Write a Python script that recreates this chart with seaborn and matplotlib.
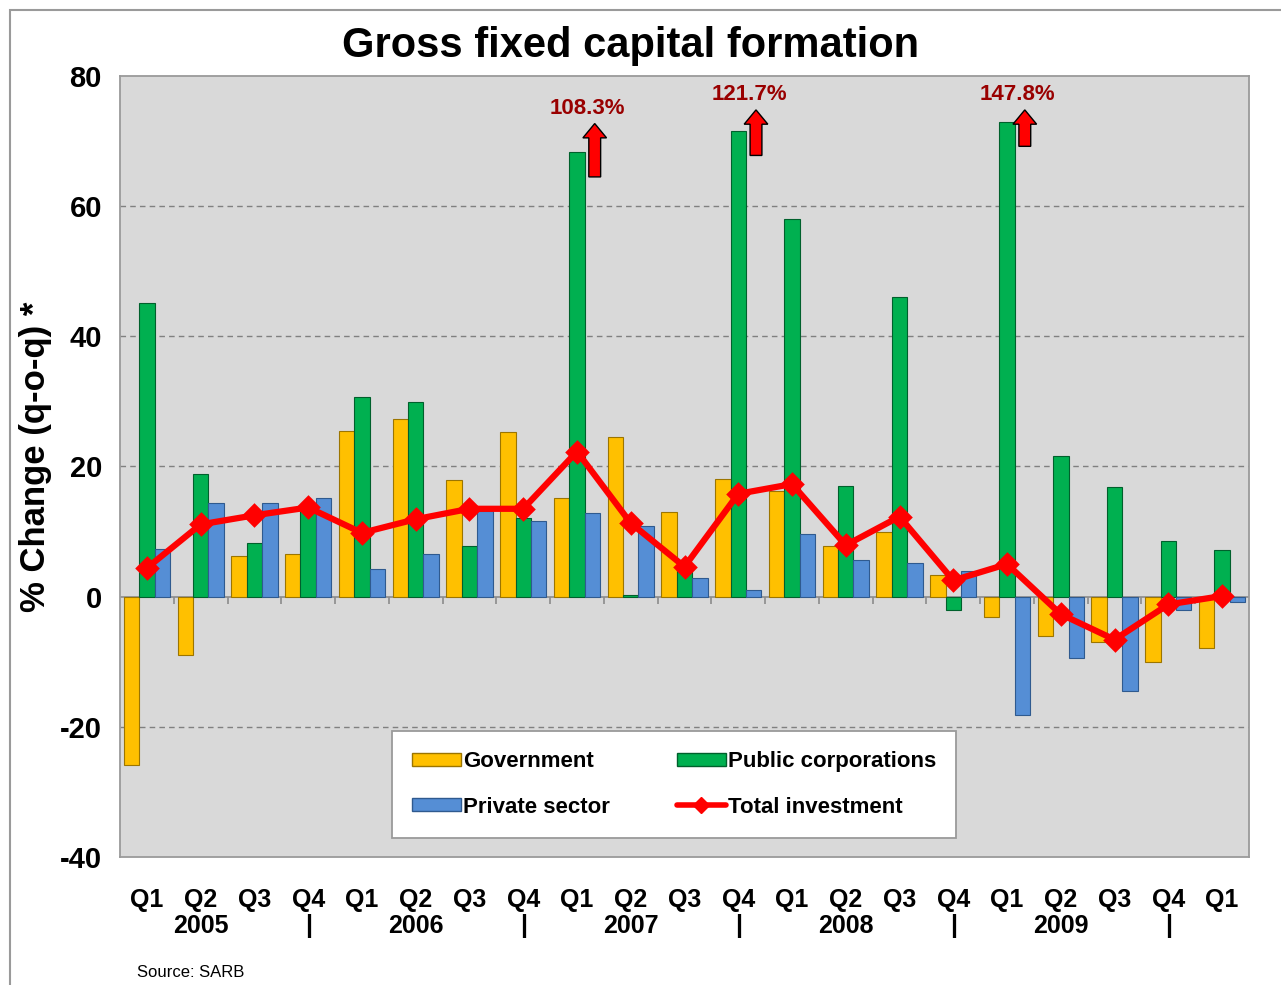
import numpy as np
import pandas as pd
import seaborn as sns
import matplotlib.pyplot as plt
from matplotlib import font_manager
from matplotlib.patches import Rectangle, Patch
from matplotlib.lines import Line2D

# quarters Q1 2005 .. Q1 2010
quarters = ['Q1', 'Q2', 'Q3', 'Q4'] * 5 + ['Q1']
years = ['2005', '2006', '2007', '2008', '2009']

government = [-25.8, -8.9, 6.3, 6.5, 25.4, 27.3, 17.9, 25.3, 15.1, 24.5, 13.0,
              18.1, 16.3, 7.8, 9.9, 3.3, -3.1, -6.1, -7.0, -10.0, -7.9]
public_corp = [45.1, 18.8, 8.3, 13.3, 30.7, 29.9, 7.8, 12.1, 68.3, 0.3, 4.2,
               71.6, 58.1, 17.0, 46.1, -2.1, 73.0, 21.6, 16.8, 8.5, 7.2]
private = [7.3, 14.4, 14.4, 15.1, 4.2, 6.5, 13.2, 11.6, 12.8, 10.9, 2.8,
           1.0, 9.7, 5.7, 5.2, 4.0, -18.2, -9.5, -14.5, -2.1, -0.8]
total = [4.4, 11.1, 12.5, 13.7, 9.8, 11.9, 13.5, 13.5, 22.3, 11.3, 4.6,
         15.8, 17.3, 7.9, 12.3, 2.5, 5.0, -2.7, -6.6, -1.2, 0.1]

# off-scale public corporations values
offscale_idx = [8, 11, 16]
offscale_txt = ['108.3%', '121.7%', '147.8%']

series = ['Government', 'Public corporations', 'Private sector']
colors = {'Government': '#FFC000', 'Public corporations': '#00B050',
          'Private sector': '#558ED5'}
edges = {'Government': '#9C7500', 'Public corporations': '#00602C',
         'Private sector': '#2F5A8F'}

ids = [f'{i:02d}' for i in range(len(quarters))]
df = pd.DataFrame({'id': ids * 3,
                   'series': np.repeat(series, len(ids)),
                   'value': government + public_corp + private})
tot = pd.DataFrame({'id': ids, 'value': total})

names = {f.name for f in font_manager.fontManager.ttflist}
narrow = 'Liberation Sans Narrow' if 'Liberation Sans Narrow' in names else 'Liberation Sans'
wide = 'Liberation Sans'

sns.set_style('white')
plt.rcParams['font.family'] = [wide, 'DejaVu Sans']
plt.rcParams['axes.unicode_minus'] = False
plt.rcParams['text.color'] = 'black'
plt.rcParams['axes.labelcolor'] = 'black'
plt.rcParams['xtick.color'] = 'black'
plt.rcParams['ytick.color'] = 'black'

fig = plt.figure(figsize=(12.81, 9.85), dpi=100)
ax = fig.add_axes([0.0937, 0.130, 0.8813, 0.7928])
ax.set_facecolor('#D9D9D9')

sns.barplot(data=df, x='id', y='value', hue='series', hue_order=series,
            palette=colors, width=0.86, ax=ax, legend=False, saturation=1)
for cont, s in zip(ax.containers, series):
    for b in cont:
        b.set_edgecolor(edges[s])
        b.set_linewidth(0.8)
        b.set_zorder(3)

sns.pointplot(data=tot, x='id', y='value', color='#FF0000', markers='D',
              markersize=9, linewidth=4.5, ax=ax)
for ln in ax.lines:
    ln.set_zorder(5)

ax.set_ylim(-40, 80)
ax.set_xlim(-0.5, len(ids) - 0.5)
ax.set_yticks(np.arange(-40, 81, 20))
for v in [-20, 20, 40, 60]:
    ax.axhline(v, color='#808080', ls=(0, (4, 3)), lw=1, zorder=1)
ax.axhline(0, color='#8C8C8C', lw=1.2, zorder=2)
ax.vlines(np.arange(len(ids) - 1) + 0.5, -1.2, 0, color='#8C8C8C', lw=1.2, zorder=2)

for sp in ax.spines.values():
    sp.set_color('#9A9A9A')
    sp.set_linewidth(1.3)
ax.tick_params(axis='y', length=7, color='#9A9A9A', pad=6, labelsize=21,
               labelcolor='black')
ax.tick_params(axis='x', length=0, pad=22, labelcolor='black')
for t in ax.get_yticklabels():
    t.set_fontweight('bold')

xlabels = []
yi = 0
for i, q in enumerate(quarters):
    if q == 'Q2' and yi < len(years):
        xlabels.append(f'{q}\n{years[yi]}')
        yi += 1
    elif q == 'Q4':
        xlabels.append(f'{q}\n|')
    else:
        xlabels.append(q + '\n ')
ax.set_xticks(range(len(ids)))
ax.set_xticklabels(xlabels, fontsize=18, fontweight='bold', family=narrow,
                   linespacing=1.15, va='top')
ax.set_xlabel('')
ax.set_ylabel('% Change (q-o-q) *', fontsize=25, fontweight='bold')
ax.yaxis.set_label_coords(-0.060, 0.512)

# off-scale markers
for i, txt in zip(offscale_idx, offscale_txt):
    v = public_corp[i]
    tip = min(v + 4.4, 74.8)
    ax.arrow(i + 0.33, v - 3.8, 0, tip - (v - 3.8), width=0.22, head_width=0.44,
             head_length=2.2, length_includes_head=True, fc='#FF0000',
             ec='black', lw=1, zorder=6)
    ax.text(i + 0.2, tip + 2.3, txt, ha='center', va='center', fontsize=16,
            fontweight='bold', color='#990000', family=narrow, zorder=6)

# legend
handles = [Patch(fc=colors['Government'], ec=edges['Government']),
           Patch(fc=colors['Public corporations'], ec=edges['Public corporations']),
           Patch(fc=colors['Private sector'], ec=edges['Private sector']),
           Line2D([], [], color='#FF0000', lw=4, marker='D', markersize=8)]
labels = ['Government', 'Public corporations', 'Private sector', 'Total investment']
order = [0, 2, 1, 3]
leg = ax.legend([handles[k] for k in order], [labels[k] for k in order],
                ncol=2, loc='center', bbox_to_anchor=(0.491, 0.093),
                frameon=True, fancybox=False, edgecolor='#9A9A9A',
                facecolor='white', framealpha=1,
                prop={'family': narrow, 'weight': 'bold', 'size': 16},
                handlelength=2.2, handleheight=0.5, handletextpad=0.1,
                columnspacing=3.0, labelspacing=1.1, borderpad=0.9)
leg.get_frame().set_linewidth(1.3)
leg.set_zorder(10)

fig.text(0.492, 0.953, 'Gross fixed capital formation', ha='center', va='center',
         fontsize=30, fontweight='bold', family=narrow, color='black')
fig.text(0.107, 0.013, 'Source: SARB', ha='left', va='center', fontsize=12,
         family=narrow, color='black')

fig.patches.append(Rectangle((0.008, -0.05), 1.1, 1.04, transform=fig.transFigure,
                             fill=False, ec='#9A9A9A', lw=1.5))

plt.savefig('out.png', dpi=100)
